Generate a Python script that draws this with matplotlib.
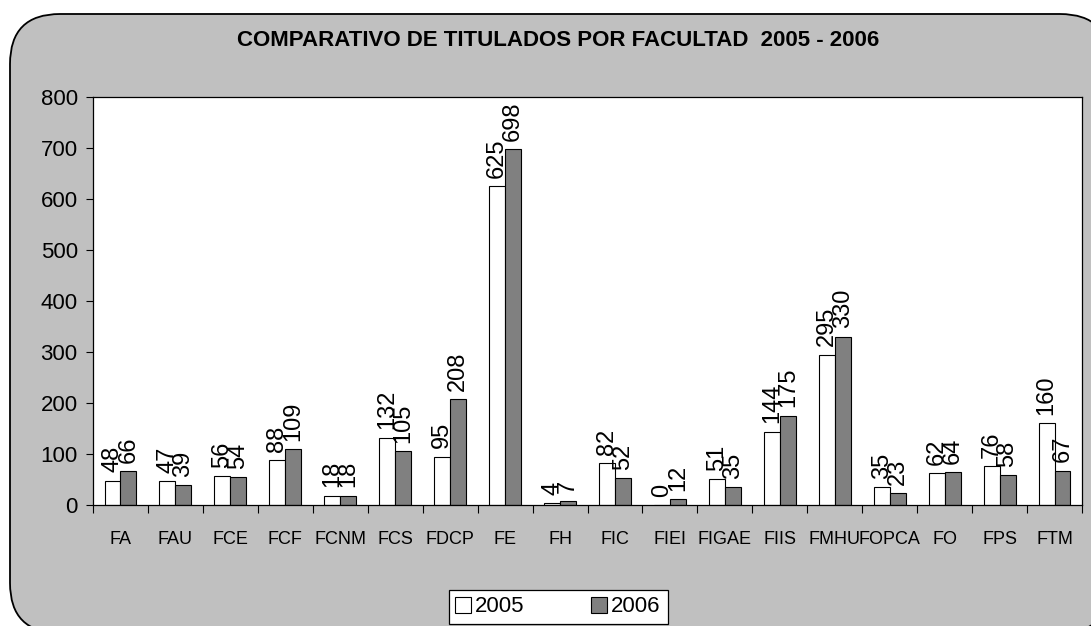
import matplotlib
matplotlib.use('Agg')
import matplotlib.pyplot as plt
import numpy as np
from matplotlib.patches import FancyBboxPatch
from matplotlib.transforms import IdentityTransform

facultades = ['FA', 'FAU', 'FCE', 'FCF', 'FCNM', 'FCS', 'FDCP', 'FE', 'FH', 'FIC',
              'FIEI', 'FIGAE', 'FIIS', 'FMHU', 'FOPCA', 'FO', 'FPS', 'FTM']
t2005 = [48, 47, 56, 88, 18, 132, 95, 625, 4, 82, 0, 51, 144, 295, 35, 62, 76, 160]
t2006 = [66, 39, 54, 109, 18, 105, 208, 698, 7, 52, 12, 35, 175, 330, 23, 64, 58, 67]
yticks = [0, 100, 200, 300, 400, 500, 600, 700, 800]

plt.rcParams['font.family'] = ['Liberation Sans', 'DejaVu Sans']

W, H = 1091, 626
fig = plt.figure(figsize=(W / 100, H / 100), dpi=100)
fig.patch.set_facecolor('white')

# rounded gray frame (partly cut off by the image edge)
frame = FancyBboxPatch((10 + 50, H - 633 + 50), 1100 - 100, 619 - 100,
                       boxstyle='round,pad=50', transform=IdentityTransform(),
                       facecolor='#c0c0c0', edgecolor='black', linewidth=1.3, zorder=-10)
fig.patches.append(frame)

ax = fig.add_axes([93 / W, (H - 505) / H, 989 / W, 408 / H])
ax.set_facecolor('white')

x = np.arange(len(facultades))
w = 0.29
b1 = ax.bar(x - w / 2, t2005, w, color='white', edgecolor='black', linewidth=0.8, label='2005')
b2 = ax.bar(x + w / 2, t2006, w, color='#808080', edgecolor='black', linewidth=0.8, label='2006')

for bars in (b1, b2):
    for r in bars:
        ax.annotate(str(int(r.get_height())), (r.get_x() + r.get_width() / 2, r.get_height()),
                    xytext=(0, 6), textcoords='offset points', rotation=90,
                    ha='center', va='bottom', fontsize=17)

ax.set_xlim(-0.5, len(facultades) - 0.5)
ax.set_ylim(0, 800)
ax.set_yticks(yticks)
ax.set_xticks(x)
ax.set_xticklabels(facultades, fontsize=13)
ax.set_xticks(np.arange(len(facultades) + 1) - 0.5, minor=True)
ax.tick_params(axis='x', which='major', length=0, pad=19)
ax.tick_params(axis='x', which='minor', length=6, direction='out', width=0.8)
ax.tick_params(axis='y', length=5, direction='out', width=0.8, labelsize=16, pad=6)
for s in ax.spines.values():
    s.set_linewidth(0.9)
    s.set_color('black')

fig.text(558 / W, (H - 40) / H, 'COMPARATIVO DE TITULADOS POR FACULTAD  2005 - 2006',
         ha='center', va='center', fontsize=16, fontweight='bold')

leg = fig.legend(loc='center', bbox_to_anchor=(558 / W, (H - 607) / H), ncol=2,
                 fontsize=16, fancybox=False, edgecolor='black', framealpha=1,
                 handlelength=0.7, handleheight=0.7, handletextpad=0.2,
                 columnspacing=3.0, borderpad=0.3, borderaxespad=0)
leg.get_frame().set_linewidth(0.9)

fig.savefig('out.png', dpi=100)
